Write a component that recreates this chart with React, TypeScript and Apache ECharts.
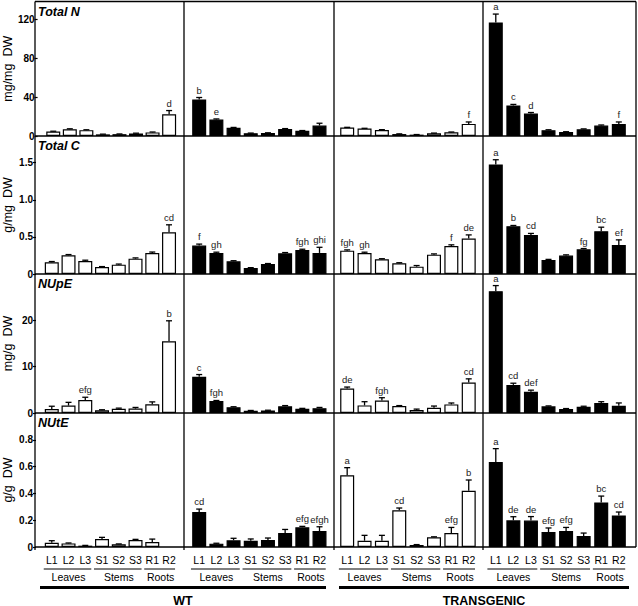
import { useEffect, useRef } from 'react';
import * as echarts from 'echarts';

const categories = ['L1', 'L2', 'L3', 'S1', 'S2', 'S3', 'R1', 'R2'];
const groupNames = ['Leaves', 'Stems', 'Roots'];
const groupFrom = [0, 3, 6];
const groupTo = [2, 5, 7];
const genotypes = ['WT', 'TRANSGENIC'];

const rowTitles = ['Total N', 'Total C', 'NUpE', 'NUtE'];
const rowUnits = ['mg/mg  DW', 'g/mg  DW', 'mg/g  DW', 'g/g  DW'];
const rowMax = [138, 1.86, 30, 1.0];
const ticksN = [0, 40, 80, 120];
const ticksC = [0, 0.5, 1.0, 1.5];
const ticksUp = [0, 10, 20];
const ticksUt = [0, 0.2, 0.4, 0.6, 0.8];

// ---- Total N (mg/mg DW)
const nWtOpen = [4.5, 7.0, 6.0, 1.7, 1.9, 2.6, 3.7, 22.3];
const nWtOpenErr = [0.4, 0.4, 0.4, 0.2, 0.2, 0.3, 0.4, 3.8];
const nWtOpenSig = ['', '', '', '', '', '', '', 'd'];
const nWtFilled = [37.5, 16.9, 8.4, 2.8, 3.1, 7.2, 5.3, 10.7];
const nWtFilledErr = [2.0, 0.6, 0.4, 0.2, 0.2, 0.4, 0.3, 2.4];
const nWtFilledSig = ['b', 'e', '', '', '', '', '', ''];
const nTgOpen = [8.6, 7.6, 6.2, 2.0, 1.4, 2.8, 3.8, 12.4];
const nTgOpenErr = [0.3, 0.3, 0.3, 0.2, 0.1, 0.2, 0.3, 2.0];
const nTgOpenSig = ['', '', '', '', '', '', '', 'f'];
const nTgFilled = [116.5, 31.4, 23.1, 6.0, 4.1, 6.9, 10.7, 12.4];
const nTgFilledErr = [8.6, 1.0, 1.0, 0.4, 0.3, 0.4, 0.6, 2.0];
const nTgFilledSig = ['a', 'c', 'd', '', '', '', '', 'f'];

// ---- Total C (g/mg DW)
const cWtOpen = [0.158, 0.252, 0.176, 0.095, 0.126, 0.207, 0.284, 0.563];
const cWtOpenErr = [0.01, 0.01, 0.01, 0.005, 0.008, 0.01, 0.012, 0.1];
const cWtOpenSig = ['', '', '', '', '', '', '', 'cd'];
const cWtFilled = [0.383, 0.284, 0.171, 0.081, 0.135, 0.279, 0.324, 0.284];
const cWtFilledErr = [0.02, 0.01, 0.008, 0.005, 0.006, 0.01, 0.01, 0.076];
const cWtFilledSig = ['f', 'gh', '', '', '', '', 'fgh', 'ghi'];
const cTgOpen = [0.315, 0.284, 0.198, 0.144, 0.099, 0.261, 0.378, 0.477];
const cTgOpenErr = [0.01, 0.01, 0.008, 0.008, 0.015, 0.01, 0.015, 0.05];
const cTgOpenSig = ['fgh', 'gh', '', '', '', '', 'f', 'de'];
const cTgFilled = [1.477, 0.644, 0.527, 0.189, 0.248, 0.333, 0.577, 0.392];
const cTgFilledErr = [0.063, 0.01, 0.02, 0.008, 0.01, 0.01, 0.054, 0.068];
const cTgFilledSig = ['a', 'b', 'cd', '', '', 'fg', 'bc', 'ef'];

// ---- NUpE (mg/g DW)
const upWtOpen = [0.86, 1.6, 2.8, 0.6, 0.9, 0.95, 1.9, 15.5];
const upWtOpenErr = [0.6, 0.7, 0.6, 0.1, 0.15, 0.25, 0.5, 4.4];
const upWtOpenSig = ['', '', 'efg', '', '', '', '', 'b'];
const upWtFilled = [7.8, 2.6, 1.25, 0.5, 0.55, 1.45, 0.9, 1.05];
const upWtFilledErr = [0.5, 0.1, 0.1, 0.05, 0.05, 0.15, 0.1, 0.15];
const upWtFilledSig = ['c', 'fgh', '', '', '', '', '', ''];
const upTgOpen = [5.3, 1.64, 2.7, 1.5, 0.64, 1.14, 1.86, 6.57];
const upTgOpenErr = [0.3, 0.8, 0.6, 0.1, 0.2, 0.36, 0.3, 0.8];
const upTgOpenSig = ['de', '', 'fgh', '', '', '', '', 'cd'];
const upTgFilled = [26.3, 6.07, 4.57, 1.43, 0.86, 1.36, 2.14, 1.57];
const upTgFilledErr = [1.2, 0.36, 0.36, 0.1, 0.1, 0.1, 0.3, 0.6];
const upTgFilledSig = ['a', 'cd', 'def', '', '', '', '', ''];

// ---- NUtE (g/g DW)
const utWtOpen = [0.032, 0.027, 0.01, 0.06, 0.02, 0.052, 0.037, null];
const utWtOpenErr = [0.015, 0.003, 0.002, 0.012, 0.003, 0.005, 0.022, 0];
const utWtOpenSig = ['', '', '', '', '', '', '', ''];
const utWtFilled = [0.261, 0.025, 0.05, 0.047, 0.052, 0.104, 0.147, 0.119];
const utWtFilledErr = [0.022, 0.003, 0.015, 0.013, 0.015, 0.027, 0.007, 0.032];
const utWtFilledSig = ['cd', '', '', '', '', '', 'efg', 'efgh'];
const utTgOpen = [0.535, 0.047, 0.047, 0.274, 0.015, 0.072, 0.104, 0.42];
const utTgOpenErr = [0.057, 0.04, 0.04, 0.017, 0.003, 0.004, 0.042, 0.08];
const utTgOpenSig = ['a', '', '', 'cd', '', '', 'efg', 'b'];
const utTgFilled = [0.634, 0.199, 0.197, 0.112, 0.119, 0.082, 0.333, 0.236];
const utTgFilledErr = [0.1, 0.027, 0.03, 0.03, 0.027, 0.022, 0.047, 0.025];
const utTgFilledSig = ['a', 'de', 'de', 'efg', 'efg', '', 'bc', 'cd'];

const rowTicks = [ticksN, ticksC, ticksUp, ticksUt];
const panels = [
  [[nWtOpen, nWtOpenErr, nWtOpenSig], [nWtFilled, nWtFilledErr, nWtFilledSig], [nTgOpen, nTgOpenErr, nTgOpenSig], [nTgFilled, nTgFilledErr, nTgFilledSig]],
  [[cWtOpen, cWtOpenErr, cWtOpenSig], [cWtFilled, cWtFilledErr, cWtFilledSig], [cTgOpen, cTgOpenErr, cTgOpenSig], [cTgFilled, cTgFilledErr, cTgFilledSig]],
  [[upWtOpen, upWtOpenErr, upWtOpenSig], [upWtFilled, upWtFilledErr, upWtFilledSig], [upTgOpen, upTgOpenErr, upTgOpenSig], [upTgFilled, upTgFilledErr, upTgFilledSig]],
  [[utWtOpen, utWtOpenErr, utWtOpenSig], [utWtFilled, utWtFilledErr, utWtFilledSig], [utTgOpen, utTgOpenErr, utTgOpenSig], [utTgFilled, utTgFilledErr, utTgFilledSig]],
];

// layout
const W = 638;
const H = 606;
const FONT = '"Liberation Sans", Arial, Helvetica, sans-serif';
const NARROW = '"Liberation Sans Narrow", "Arial Narrow", "Liberation Sans", Arial, sans-serif';
const panelX = [35, 184, 334, 483, 636];
const rowY = [1.5, 136, 274, 413, 547];
const gridLeft = [42.4, 190.6, 338.5, 487];
const gridWidth = [135, 137.5, 138.9, 140.6];
const colFill = ['#ffffff', '#000000', '#ffffff', '#000000'];

function fmtTick(r: number, v: number) {
  if (v === 0) return '0';
  if (r === 1 || r === 3) return v.toFixed(1);
  return String(v);
}

function buildOption() {
  const grid: any[] = [];
  const xAxis: any[] = [];
  const yAxis: any[] = [];
  const series: any[] = [];
  for (let r = 0; r < 4; r++) {
    for (let c = 0; c < 4; c++) {
      const idx = r * 4 + c;
      grid.push({
        left: gridLeft[c],
        width: gridWidth[c],
        top: rowY[r],
        height: rowY[r + 1] - rowY[r],
        containLabel: false,
      });
      xAxis.push({
        type: 'category',
        gridIndex: idx,
        data: categories,
        axisLine: { show: false },
        axisTick: { show: false },
        axisLabel: {
          show: r === 3,
          interval: 0,
          hideOverlap: false,
          margin: 7,
          fontSize: 10.5,
          color: '#000',
          fontFamily: FONT,
        },
        splitLine: { show: false },
      });
      yAxis.push({
        type: 'value',
        gridIndex: idx,
        min: 0,
        max: rowMax[r],
        offset: c === 0 ? gridLeft[0] - panelX[0] : 0,
        axisLine: { show: false },
        splitLine: { show: false },
        axisTick: {
          show: c === 0,
          inside: false,
          length: 3,
          customValues: rowTicks[r],
          lineStyle: { color: '#000', width: 1.2 },
        },
        axisLabel: {
          show: c === 0,
          customValues: rowTicks[r],
          formatter: (v: number) => fmtTick(r, v),
          margin: 3,
          fontSize: 10,
          fontWeight: 'bold',
          color: '#000',
          fontFamily: NARROW,
        },
        name: c === 0 ? rowUnits[r] : '',
        nameLocation: 'middle',
        nameGap: 22,
        nameRotate: 90,
        nameTextStyle: { fontSize: 12.5, color: '#000', fontFamily: FONT },
      });
      const [vals, errs, sig] = panels[r][c] as [any[], number[], string[]];
      series.push({
        type: 'bar',
        xAxisIndex: idx,
        yAxisIndex: idx,
        data: vals,
        barWidth: 14,
        itemStyle: { color: colFill[c], borderColor: '#000', borderWidth: 1.2 },
        silent: true,
      });
      const errData: any[] = [];
      vals.forEach((v, i) => {
        if (v != null) errData.push([i, v, errs[i]]);
      });
      series.push({
        type: 'custom',
        xAxisIndex: idx,
        yAxisIndex: idx,
        data: errData,
        encode: { x: 0, y: 1 },
        silent: true,
        z: 5,
        renderItem: (params: any, api: any) => {
          const i = api.value(0);
          const v = api.value(1);
          const e = api.value(2);
          const base = api.coord([i, v]);
          const top = api.coord([i, v + e]);
          const children: any[] = [];
          if (e > 0) {
            children.push({
              type: 'line',
              shape: { x1: base[0], y1: base[1], x2: top[0], y2: top[1] },
              style: { stroke: '#000', lineWidth: 1.3 },
            });
            children.push({
              type: 'line',
              shape: { x1: top[0] - 3, y1: top[1], x2: top[0] + 3, y2: top[1] },
              style: { stroke: '#000', lineWidth: 1.3 },
            });
          }
          const letter = sig[i];
          if (letter) {
            children.push({
              type: 'text',
              x: top[0],
              y: top[1] - 2.5,
              style: {
                text: letter,
                textAlign: 'center',
                textVerticalAlign: 'bottom',
                fontSize: 9.5,
                fill: '#222',
                fontFamily: FONT,
              },
            });
          }
          return { type: 'group', children };
        },
      });
      if (r === 3) {
        series.push({
          type: 'custom',
          xAxisIndex: idx,
          yAxisIndex: idx,
          data: groupFrom.map((f, k) => [f, groupTo[k], k]),
          encode: { x: [0, 1] },
          silent: true,
          clip: false,
          renderItem: (params: any, api: any) => {
            const a = api.coord([api.value(0), 0]);
            const b = api.coord([api.value(1), 0]);
            const half = api.size([1, 0])[0] * 0.42;
            const y = a[1] + 22;
            return {
              type: 'group',
              children: [
                {
                  type: 'line',
                  shape: { x1: a[0] - half - 1, y1: y, x2: b[0] + half - 1, y2: y },
                  style: { stroke: '#000', lineWidth: 1 },
                },
                {
                  type: 'text',
                  x: (a[0] + b[0]) / 2,
                  y: y + 2,
                  style: {
                    text: groupNames[api.value(2)],
                    textAlign: 'center',
                    textVerticalAlign: 'top',
                    fontSize: 10.5,
                    fill: '#000',
                    fontFamily: FONT,
                  },
                },
              ],
            };
          },
        });
      }
    }
  }

  const graphic: any[] = [];
  const lineStyle = { stroke: '#000', lineWidth: 1.3 };
  // horizontal frame lines
  for (let k = 0; k < rowY.length; k++) {
    graphic.push({
      type: 'line',
      shape: { x1: panelX[0], y1: rowY[k], x2: panelX[4], y2: rowY[k] },
      style: lineStyle,
      z: 10,
    });
  }
  // vertical frame lines
  for (let k = 0; k < panelX.length; k++) {
    graphic.push({
      type: 'line',
      shape: { x1: panelX[k], y1: rowY[0], x2: panelX[k], y2: k === 4 ? rowY[4] : rowY[4] + 3 },
      style: lineStyle,
      z: 10,
    });
  }
  // genotype brackets
  const brackets = [
    [40, 326],
    [339, 629],
  ];
  brackets.forEach(([x1, x2], g) => {
    graphic.push({
      type: 'line',
      shape: { x1, y1: 587.5, x2, y2: 587.5 },
      style: { stroke: '#000', lineWidth: 3 },
    });
    graphic.push({
      type: 'text',
      x: (x1 + x2) / 2,
      y: 600.5,
      style: {
        text: genotypes[g],
        textAlign: 'center',
        textVerticalAlign: 'middle',
        fontSize: 12.5,
        fontWeight: 'bold',
        fill: '#000',
        fontFamily: NARROW,
      },
    });
  });

  const title = rowTitles.map((t, r) => ({
    text: t,
    left: 38,
    top: rowY[r] + 3.5,
    padding: 0,
    textStyle: {
      fontSize: 12.5,
      fontWeight: 'bold',
      fontStyle: 'italic',
      color: '#000',
      fontFamily: FONT,
    },
  }));

  return {
    animation: false,
    backgroundColor: '#ffffff',
    title,
    grid,
    xAxis,
    yAxis,
    series,
    graphic,
  };
}

export default function App() {
  const ref = useRef<HTMLDivElement>(null);
  useEffect(() => {
    if (!ref.current) return;
    const chart = echarts.init(ref.current, null, { renderer: 'svg', width: W, height: H });
    chart.setOption(buildOption() as any);
    return () => chart.dispose();
  }, []);
  return (
    <div
      ref={ref}
      style={{ position: 'fixed', left: 0, top: 0, width: W, height: H, background: '#fff' }}
    />
  );
}
